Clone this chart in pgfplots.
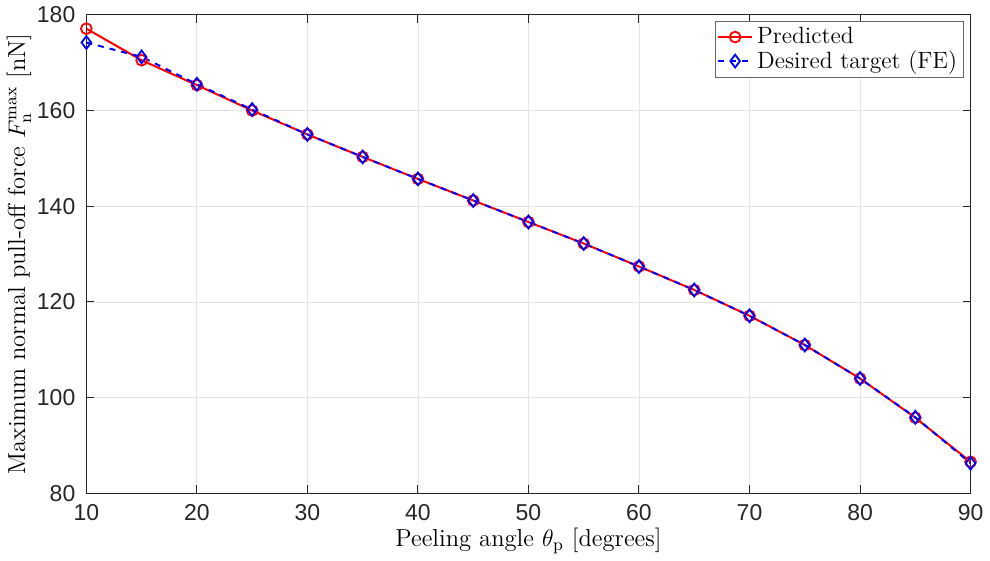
\documentclass[border=0pt]{standalone}
\usepackage{pgfplots}
\pgfplotsset{compat=1.18}
\usepackage{fontspec}
\newfontfamily\ticksans{Liberation Sans}
\definecolor{axgray}{RGB}{38,38,38}
\begin{document}
\begin{tikzpicture}
\begin{axis}[
  scale only axis,
  width=442.5pt, height=239.5pt,
  xmin=10, xmax=90, ymin=80, ymax=180,
  xtick={10,20,...,90}, ytick={80,100,...,180},
  tick align=inside,
  major tick length=4pt,
  axis line style={axgray, line width=0.5pt},
  tick style={axgray, line width=0.5pt},
  grid=major,
  grid style={gray!20, line width=0.4pt},
  tick label style={font=\ticksans\fontsize{11.5}{12}\selectfont, text=axgray},
  yticklabel style={xshift=-2pt},
  xticklabel style={yshift=-2pt},
  /pgf/number format/assume math mode=true,
  xlabel={Peeling angle $\theta_{\mathrm{p}}$ [degrees]},
  ylabel={Maximum normal pull-off force $F_{\mathrm{n}}^{\max}$ [nN]},
  label style={font=\fontsize{12.3}{13}\selectfont},
  xlabel style={yshift=3pt},
  ylabel style={yshift=-4pt},
  legend style={at={(0.992,0.987)}, anchor=north east, draw=black!60, font=\fontsize{11.8}{13}\selectfont, inner sep=1pt, row sep=-2pt, cells={anchor=west}},
  legend cell align=left,
]
\addplot[red, line width=1pt, mark=o, mark size=2.7pt, mark options={solid, line width=0.9pt}] coordinates {
(10,177.1) (15,170.5) (20,165.3) (25,160.0) (30,155.0) (35,150.3) (40,145.7) (45,141.2) (50,136.7) (55,132.2) (60,127.4) (65,122.5) (70,117.1) (75,111.0) (80,104.0) (85,95.8) (90,86.6)
};
\addlegendentry{Predicted}
\addplot[blue, line width=1pt, dashed, mark=diamond, mark size=3.2pt, mark options={solid, line width=0.9pt}] coordinates {
(10,174.2) (15,171.2) (20,165.5) (25,160.2) (30,155.0) (35,150.3) (40,145.7) (45,141.2) (50,136.7) (55,132.2) (60,127.4) (65,122.5) (70,117.1) (75,111.0) (80,104.0) (85,95.9) (90,86.3)
};
\addlegendentry{Desired target (FE)}
\end{axis}
\end{tikzpicture}
\end{document}
